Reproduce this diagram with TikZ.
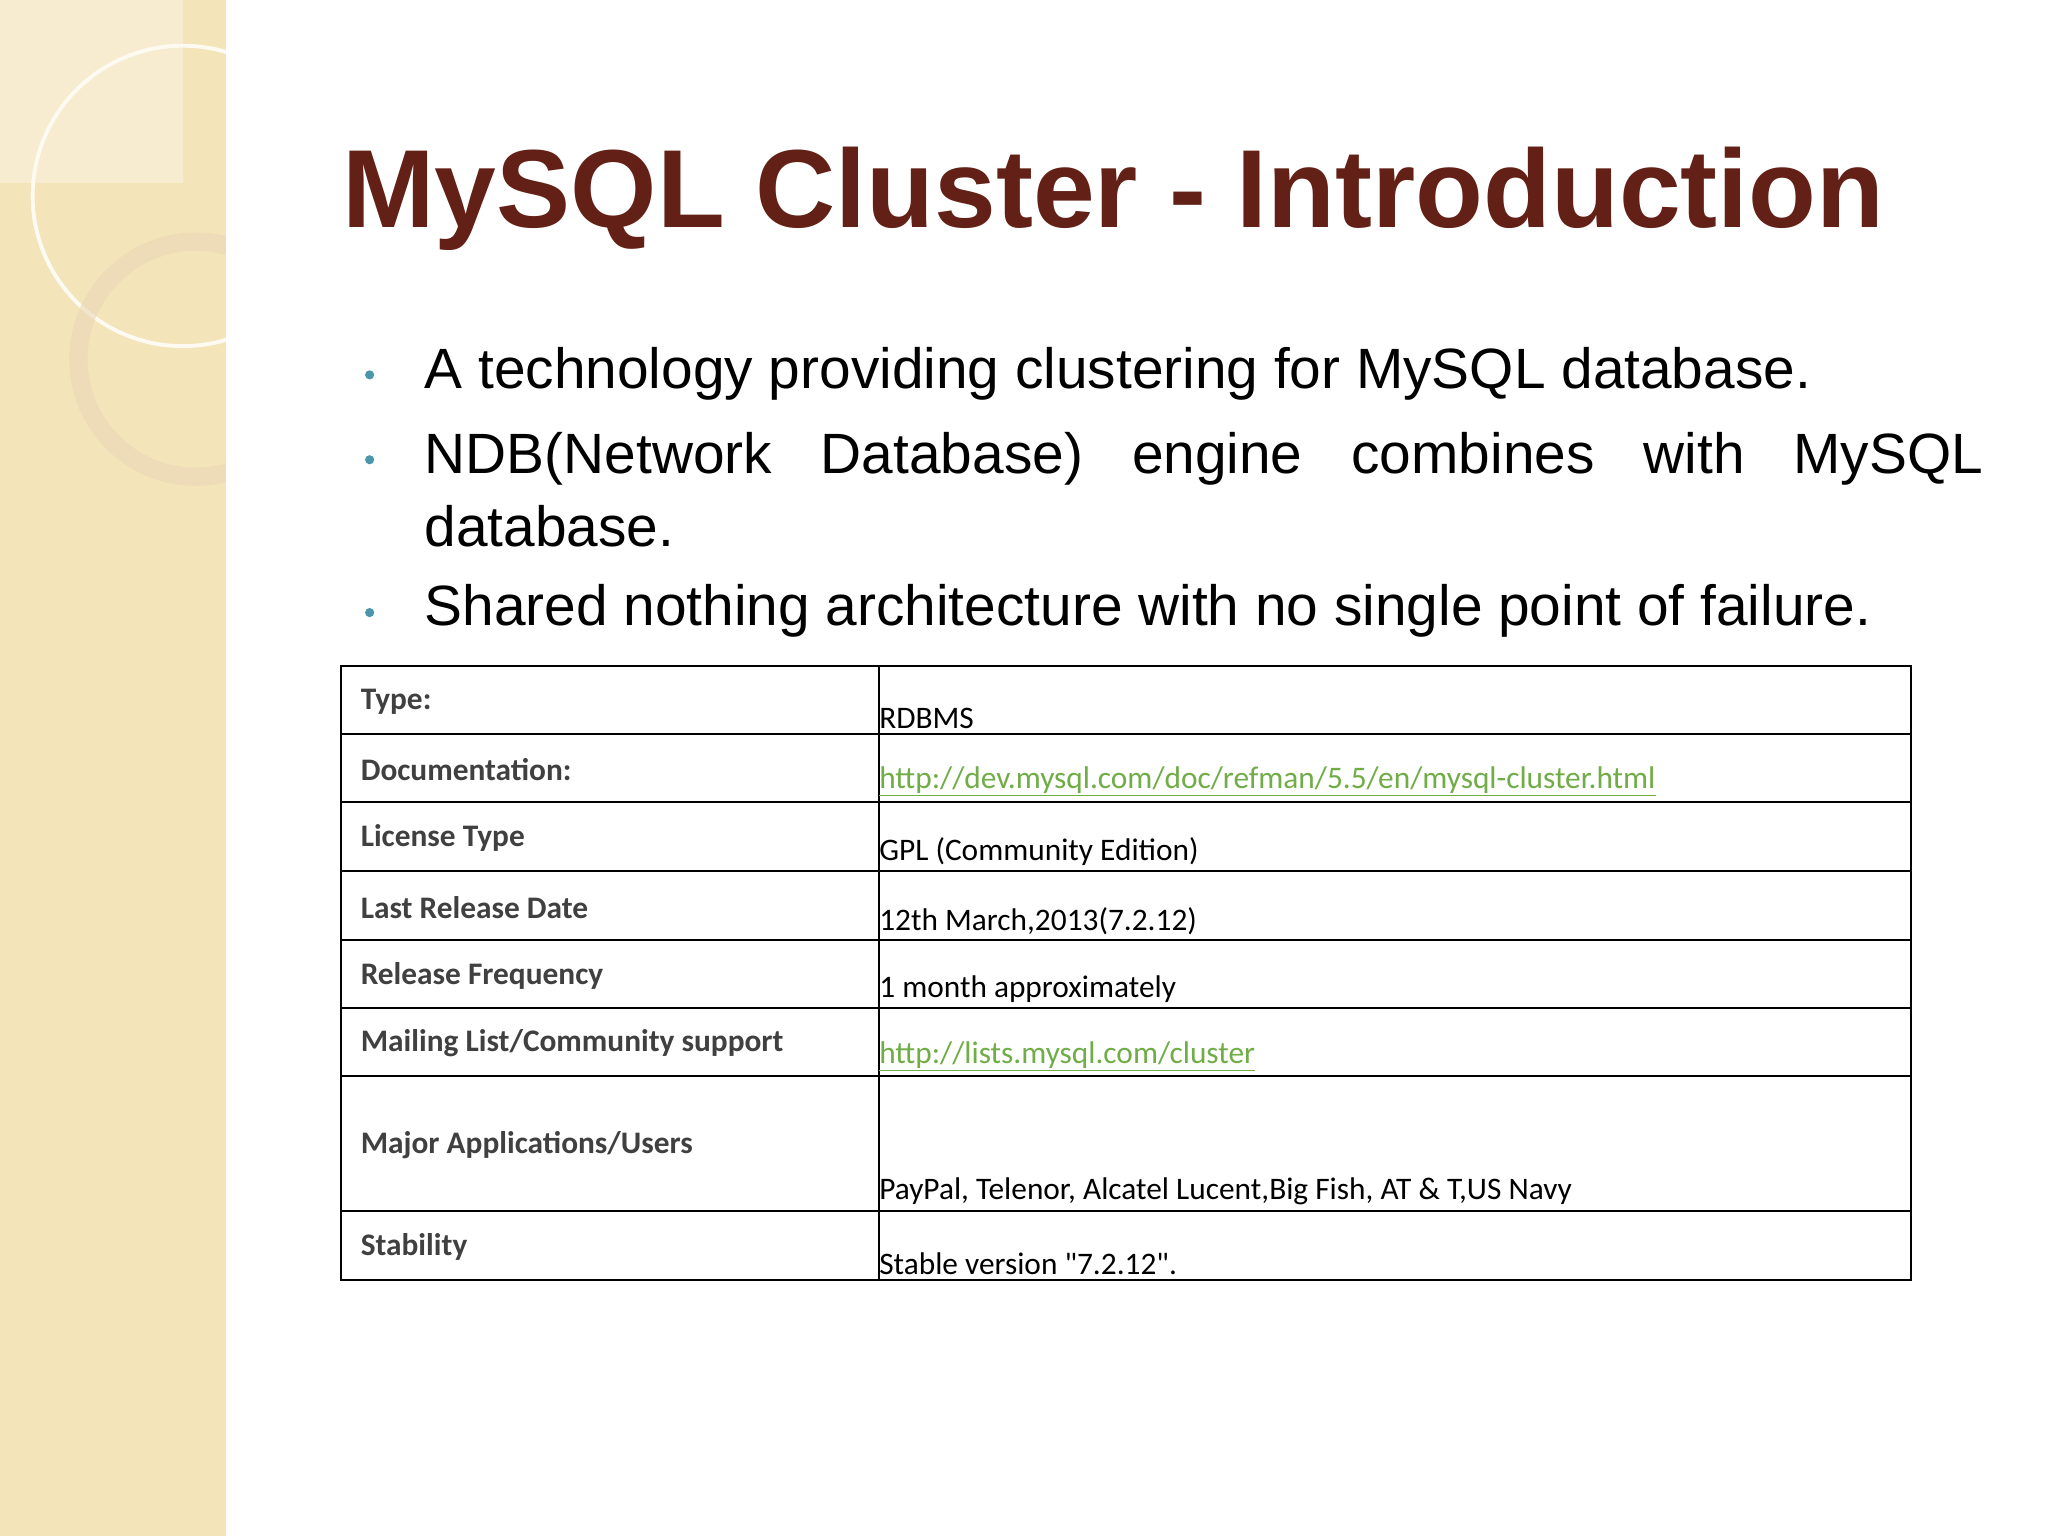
\documentclass[tikz,border=0pt]{standalone}
\usepackage{fontspec}
\setmainfont{Liberation Sans}
\newfontfamily\calfnt{Carlito}
\definecolor{beige}{RGB}{243,228,186}
\definecolor{ttl}{RGB}{98,32,22}
\definecolor{lnk}{RGB}{112,173,71}
\definecolor{bul}{RGB}{75,150,170}
\tikzset{x=1pt,y=-1pt,
 hd/.style={anchor=west,inner sep=0pt,font=\calfnt\bfseries\fontsize{24}{27}\selectfont,text=black!75},
 vl/.style={anchor=south west,inner xsep=0pt,inner ysep=4pt,font=\calfnt\fontsize{24}{27}\selectfont},
 bt/.style={anchor=west,font=\fontsize{43.5}{52}\selectfont,inner sep=0pt},
 dot/.style={circle,fill=bul,inner sep=0pt,minimum size=7pt}}
\begin{document}
\begin{tikzpicture}
\useasboundingbox (0,0) rectangle (1568,1176);
\fill[white] (0,0) rectangle (1568,1176);
\fill[beige] (0,0) rectangle (173,1176);
\fill[beige!70!white] (0,0) rectangle (140,140);
\draw[white!80!beige,line width=3pt] (140,150) circle (115);
\draw[beige!60!brown!60!white,line width=14pt,opacity=.6] (150,275) circle (90);
\fill[white] (173,0) rectangle (1568,1176);
\node[font=\bfseries\fontsize{85}{100}\selectfont,text=ttl,anchor=west,inner sep=0pt] (title) at (262,152) {MySQL Cluster - Introduction};
\node[dot] (d1) at (283,287) {}; \node[bt] (b1) at (325,286) {A technology providing clustering for MySQL database.};
\node[dot] (d2) at (283,352) {}; \node[bt] (b2) at (325,351) {NDB(Network\hspace{37.5pt}Database)\hspace{37.5pt}engine\hspace{37.5pt}combines\hspace{37.5pt}with\hspace{37.5pt}MySQL};
\node[bt] (b2b) at (325,403) {database.};
\node[dot] (d3) at (283,469) {}; \node[bt] (b3) at (325,468) {Shared nothing architecture with no single point of failure.};
\draw[line width=2pt] (261,510) rectangle (1463,980);
\draw[line width=1.6pt] (673,510) -- (673,980);
\foreach \y in {562,614,667,720,772,824,927} \draw[line width=1.6pt] (261,\y) -- (1463,\y);
\foreach \t/\ya/\yb [count=\i] in {Type:/510/562,Documentation:/562/614,License Type/614/667,Last Release Date/667/720,Release Frequency/720/772,Mailing List\slash Community support/772/824,Major Applications\slash Users/824/927,Stability/927/980}
 \node[hd] (h\i) at (276,{(\ya+\yb)/2+1}) {\t};
\node[vl] (v1) at (673,562) {RDBMS};
\node[vl,text=lnk] (v2) at (673,614) {\underline{http://dev.mysql.com/doc/refman/5.5/en/mysql-cluster.html}};
\node[vl] (v3) at (673,667) {GPL (Community Edition)};
\node[vl] (v4) at (673,720) {12th March,2013(7.2.12)};
\node[vl] (v5) at (673,772) {1 month approximately};
\node[vl,text=lnk] (v6) at (673,824) {\underline{http://lists.mysql.com/cluster}};
\node[vl] (v7) at (673,927) {PayPal, Telenor, Alcatel Lucent,Big Fish, AT \& T,US Navy};
\node[vl] (v8) at (673,980) {Stable version "7.2.12".};
\end{tikzpicture}
\end{document}
